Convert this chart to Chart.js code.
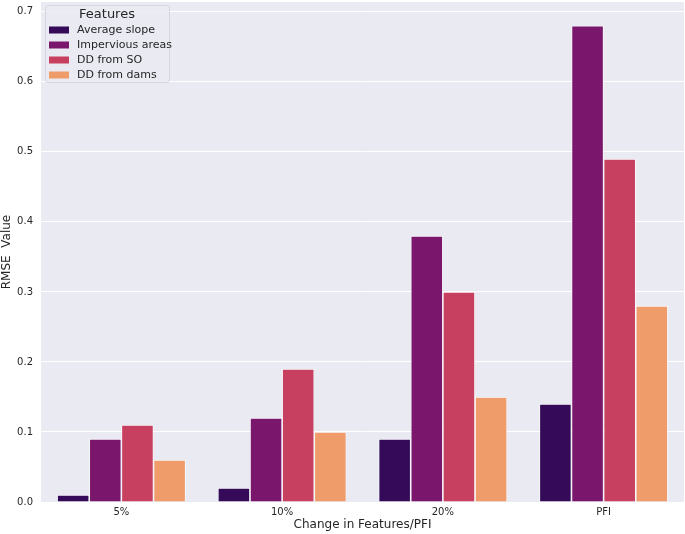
<!DOCTYPE html>
<html>
<head>
<meta charset="utf-8">
<script src="https://cdn.jsdelivr.net/npm/chart.js@4"></script>
<style>
  html, body { margin: 0; padding: 0; background: #fff; }
  #wrap { width: 685px; height: 534px; position: relative; }
</style>
</head>
<body>
<div id="wrap"><canvas id="rmseChart"></canvas></div>
<script>
// categories and series
const categories = ['5%', '10%', '20%', 'PFI'];
const avgSlope = [0.01, 0.02, 0.09, 0.14];
const impervious = [0.09, 0.12, 0.38, 0.68];
const ddFromSO = [0.11, 0.19, 0.30, 0.49];
const ddFromDams = [0.06, 0.10, 0.15, 0.28];
const seriesNames = ['Average slope', 'Impervious areas', 'DD from SO', 'DD from dams'];
const seriesColors = ['#340a59', '#7a176c', '#c8405f', '#ef9c6a'];
const yTicks = [0, 0.1, 0.2, 0.3, 0.4, 0.5, 0.6, 0.7];

Chart.defaults.font.family = "'DejaVu Sans', sans-serif";
Chart.defaults.color = '#262626';

// seaborn-like grey plot background
const plotBackground = {
    id: 'plotBackground',
    beforeDraw(chart) {
        const { ctx, chartArea: a } = chart;
        ctx.save();
        ctx.fillStyle = '#eaeaf2';
        ctx.fillRect(a.left, a.top, a.right - a.left, a.bottom - a.top);
        ctx.restore();
    }
};

// legend box in the upper left of the plot, with a title
const insideLegend = {
    id: 'insideLegend',
    afterDraw(chart) {
        const { ctx, chartArea: a } = chart;
        const x = a.left + 4, y = a.top + 3, w = 124, h = 77;
        ctx.save();
        ctx.fillStyle = 'rgba(234,234,242,0.8)';
        ctx.strokeStyle = '#d6d6de';
        ctx.lineWidth = 1;
        ctx.beginPath();
        ctx.roundRect(x + 0.5, y + 0.5, w, h, 3);
        ctx.fill();
        ctx.stroke();
        ctx.fillStyle = '#262626';
        ctx.textBaseline = 'middle';
        ctx.textAlign = 'center';
        ctx.font = "13px 'DejaVu Sans', sans-serif";
        ctx.fillText('Features', x + w / 2, y + 10);
        ctx.textAlign = 'left';
        ctx.font = "11px 'DejaVu Sans', sans-serif";
        chart.data.datasets.forEach((ds, i) => {
            const ry = y + 25 + i * 15;
            ctx.fillStyle = ds.backgroundColor;
            ctx.fillRect(x + 4, ry - 3.5, 20, 7);
            ctx.fillStyle = '#262626';
            ctx.fillText(ds.label, x + 32, ry);
        });
        ctx.restore();
    }
};

const dataSets = [avgSlope, impervious, ddFromSO, ddFromDams].map((vals, i) => ({
    label: seriesNames[i],
    data: vals,
    backgroundColor: seriesColors[i],
    borderColor: '#ffffff',
    borderWidth: 0.8,
    borderSkipped: 'bottom'
}));

new Chart(document.getElementById('rmseChart'), {
    type: 'bar',
    data: { labels: categories, datasets: dataSets },
    options: {
        responsive: true,
        maintainAspectRatio: false,
        animation: false,
        datasets: { bar: { categoryPercentage: 0.8, barPercentage: 1.0 } },
        layout: { padding: { left: 0, right: 1, top: 2, bottom: 0 } },
        plugins: {
            legend: { display: false },
            tooltip: { enabled: false }
        },
        scales: {
            x: {
                grid: { display: false, drawTicks: false, tickLength: 0 },
                border: { display: false },
                ticks: { font: { size: 10 }, color: '#262626', padding: 4 },
                title: { display: true, text: 'Change in Features/PFI', font: { size: 12 }, color: '#262626', padding: { top: 0, bottom: 2 } },
                afterFit(scale) { scale.height = 32; }
            },
            y: {
                min: 0,
                max: 0.714,
                grid: { color: '#ffffff', lineWidth: 1, drawTicks: false },
                border: { display: false },
                afterBuildTicks(scale) { scale.ticks = yTicks.map(v => ({ value: v })); },
                ticks: { font: { size: 10 }, color: '#262626', padding: 8, callback: v => v.toFixed(1) },
                title: { display: true, text: 'RMSE  Value', font: { size: 12 }, color: '#262626', padding: { top: 0, bottom: 4 } },
                afterFit(scale) {
                    scale.width = 41;
                    scale.paddingTop = 0;
                    scale.paddingBottom = 0;
                }
            }
        }
    },
    plugins: [plotBackground, insideLegend]
});
</script>
</body>
</html>
